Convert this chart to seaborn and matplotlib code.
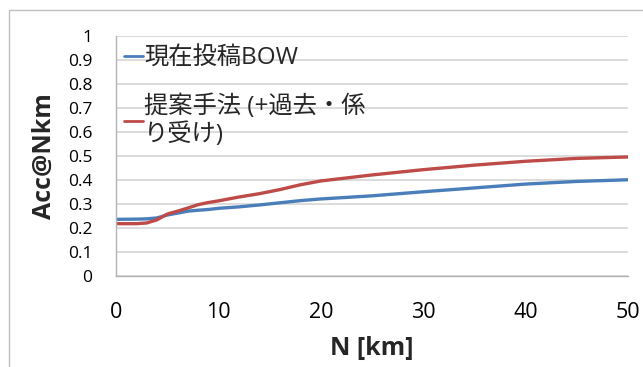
import numpy as np
import pandas as pd
import seaborn as sns
import matplotlib
matplotlib.use("Agg")
from matplotlib import pyplot as plt
from matplotlib.patches import Rectangle

# distance threshold N [km]
n_km = [0, 2, 3, 4, 5, 6, 7, 8, 9, 10, 12, 14, 16, 18, 20, 25, 30, 35, 40, 45, 50]
# accuracy curves
acc_bow = [0.236, 0.237, 0.238, 0.242, 0.254, 0.262, 0.270, 0.274, 0.277, 0.282, 0.288,
           0.296, 0.305, 0.314, 0.321, 0.334, 0.351, 0.367, 0.383, 0.394, 0.401]
acc_prop = [0.218, 0.218, 0.221, 0.234, 0.258, 0.270, 0.283, 0.297, 0.306, 0.313, 0.329,
            0.343, 0.360, 0.380, 0.396, 0.421, 0.443, 0.462, 0.478, 0.490, 0.496]
series_names = ["現在投稿BOW", "提案手法 (+過去・係\nり受け)"]
x_ticks = [0, 10, 20, 30, 40, 50]
y_ticks = [0, 0.1, 0.2, 0.3, 0.4, 0.5, 0.6, 0.7, 0.8, 0.9, 1.0]
y_tick_labels = ["0", "0.1", "0.2", "0.3", "0.4", "0.5", "0.6", "0.7", "0.8", "0.9", "1"]

df = pd.DataFrame({
    "N": n_km * 2,
    "acc": acc_bow + acc_prop,
    "method": [series_names[0]] * len(n_km) + [series_names[1]] * len(n_km),
})

sns.set_style("white")
plt.rcParams['font.family'] = ['Open Sans', 'Noto Sans CJK JP', 'DejaVu Sans']

fig = plt.figure(figsize=(6.43, 3.67), dpi=100)
ax = fig.add_axes([116 / 643, 1 - 276 / 367, (628 - 116) / 643, (276 - 36) / 367])

# outer chart border
fig.patches.append(Rectangle((9 / 643, -0.1), 1.2, 1 - 10 / 367 + 0.1,
                             transform=fig.transFigure, fill=False,
                             edgecolor="#bfbfbf", linewidth=1.0))

sns.lineplot(data=df, x="N", y="acc", hue="method",
             palette=["#4a7ebb", "#be4b48"], linewidth=2.4, ax=ax)

ax.set_xlim(0, 50)
ax.set_ylim(0, 1)
ax.set_xticks(x_ticks)
ax.set_yticks(y_ticks)
ax.set_yticklabels(y_tick_labels)
ax.yaxis.grid(True, color="#d9d9d9", linewidth=1.3)
ax.set_axisbelow(True)
for s in ["top", "right"]:
    ax.spines[s].set_visible(False)
for s in ["left", "bottom"]:
    ax.spines[s].set_color("#b3b3b3")
    ax.spines[s].set_linewidth(1.0)
ax.tick_params(axis="both", which="both", length=5, color="#b3b3b3",
               labelcolor="black", direction="out")
ax.tick_params(axis="x", labelsize=15.5, pad=14)
ax.tick_params(axis="y", labelsize=12.5, pad=12)

ax.set_xlabel("N [km]", fontsize=18, fontweight="bold", labelpad=9)
ax.set_ylabel("Acc@Nkm", fontsize=18, fontweight="bold", labelpad=8)

leg = ax.legend(loc="upper left", bbox_to_anchor=(-0.012, 1.015), frameon=False,
                fontsize=17.5, handlelength=0.75, handletextpad=0.05,
                labelspacing=0.95, borderaxespad=0.2)
for line in leg.get_lines():
    line.set_linewidth(2.0)

fig.savefig("out.png", dpi=100)
